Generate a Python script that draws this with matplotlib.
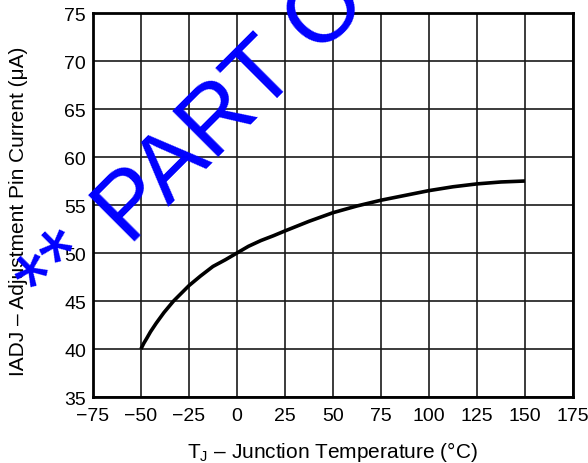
import numpy as np
import matplotlib.pyplot as plt

plt.rcParams['font.family'] = ['Liberation Sans', 'DejaVu Sans']
plt.rcParams['mathtext.fontset'] = 'custom'
plt.rcParams['mathtext.rm'] = 'Liberation Sans'

# curve
temp_c = [-50, -48.5, -47, -45, -42, -38, -33, -29, -25, -19, -12.5, -6,
          0, 6, 12.5, 19, 25, 37.5, 50, 62.5, 75, 87.5, 100, 112.5, 125, 137.5, 150]
i_adj_ua = [40.0, 40.6, 41.1, 41.8, 42.7, 43.8, 45.0, 45.8, 46.6, 47.6, 48.6, 49.3,
            50.0, 50.7, 51.3, 51.8, 52.3, 53.3, 54.2, 54.9, 55.5, 56.0, 56.5, 56.9, 57.2, 57.4, 57.5]

x_ticks = [-75, -50, -25, 0, 25, 50, 75, 100, 125, 150, 175]
x_labels = ['\u221275', '\u221250', '\u221225', '0', '25', '50', '75', '100', '125', '150', '175']
y_ticks = [35, 40, 45, 50, 55, 60, 65, 70, 75]

fig = plt.figure(figsize=(5.88, 4.64), dpi=100)
ax = fig.add_axes([0.158, 0.1422, 0.8165, 0.8276])

ax.plot(temp_c, i_adj_ua, color='black', lw=2.6, solid_capstyle='butt',
        solid_joinstyle='round', zorder=3)

ax.set_xlim(-75, 175)
ax.set_ylim(35, 75)
ax.set_xticks(x_ticks)
ax.set_xticklabels(x_labels)
ax.set_yticks(y_ticks)
ax.grid(True, color='#1a1a1a', lw=1.2)
ax.tick_params(axis='x', length=0, labelsize=14, pad=7)
ax.tick_params(axis='y', length=0, labelsize=14, pad=5)
for s in ax.spines.values():
    s.set_linewidth(2)

ax.set_xlabel('T$_\\mathregular{J}$ \u2013 Junction Temperature (\u00b0C)', fontsize=15, labelpad=11)
ax.set_ylabel('IADJ \u2013 Adjustment Pin Current (\u03bcA)', fontsize=15)
ax.yaxis.set_label_coords(-0.135, 0.487)

# watermark
fig.text(0.087, 0.323, '**', color='#0000ff', fontsize=66,
         rotation=45, rotation_mode='anchor', ha='left', va='baseline')
fig.text(0.2194, 0.4698, 'PART OBSOLETE **', color='#0000ff', fontsize=68,
         rotation=45, rotation_mode='anchor', ha='left', va='baseline')

fig.savefig('out.png', dpi=100)
